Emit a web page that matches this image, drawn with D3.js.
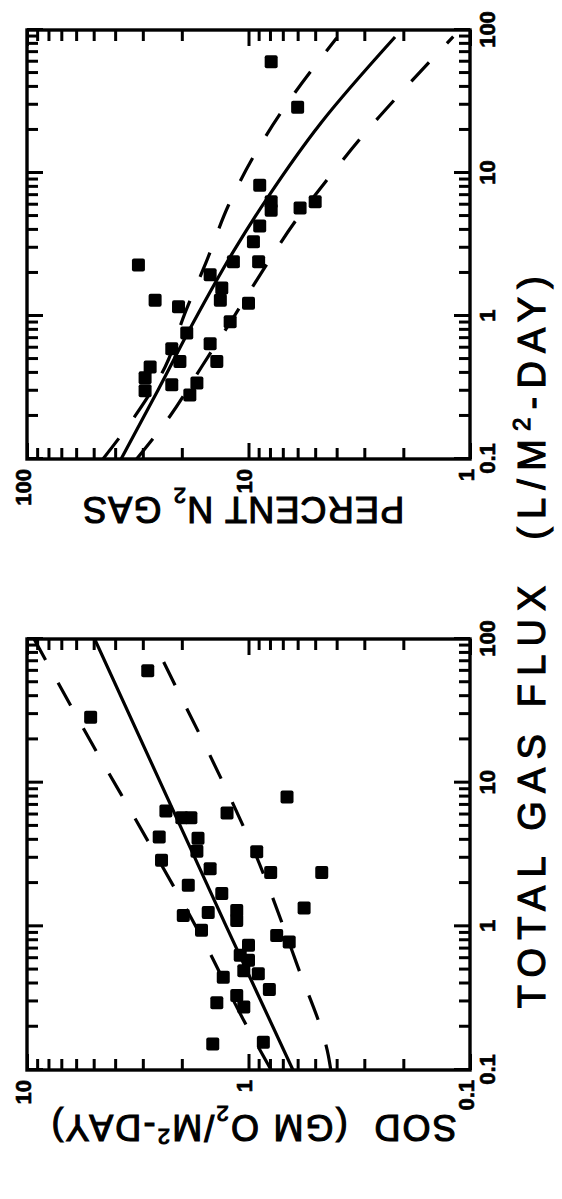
<!DOCTYPE html>
<html>
<head>
<meta charset="utf-8">
<script src="https://cdn.jsdelivr.net/npm/d3@7/dist/d3.min.js"></script>
<style>
html,body{margin:0;padding:0;background:#fff;}
svg{display:block;}
</style>
</head>
<body>
<svg id="chart" width="562" height="1199"></svg>
<script>
// ---------------- DATA ----------------
const fluxTickLabels = ["0.1", "1", "10", "100"];
const pctTickLabels  = ["1", "10", "100"];
const sodTickLabels  = ["0.1", "1", "10"];

// Percent N2 gas vs total gas flux
const n2Flux = [60.0, 28.8, 8.2, 6.3, 5.5, 5.7, 6.3, 4.26, 3.3, 2.4, 2.4, 2.27, 1.94, 1.57, 1.29,
                1.29, 1.16, 1.23, 0.91, 0.76, 0.59, 0.48, 0.64, 0.48, 0.44, 0.37, 0.30, 0.33, 0.34, 0.28];
const n2Pct  = [7.9, 6.0, 8.9, 7.9, 7.9, 5.85, 5.0, 8.9, 9.5, 9.0, 11.7, 31.4, 14.9, 13.2, 13.4,
                26.4, 20.7, 10.0, 12.1, 19.0, 22.2, 20.4, 14.9, 13.9, 27.8, 29.3, 29.3, 22.2, 17.1, 18.4];
const n2FitFlux = [0.1, 0.304, 0.893, 2.89, 6.79, 22.4, 89.4];
const n2FitPct  = [37.6, 25.6, 17.8, 11.6, 8.17, 4.71, 2.18];
const n2UpFlux  = [0.1, 0.2, 0.44, 1.04, 2.46, 5.97, 13.0, 29.1, 88];
const n2UpPct   = [45.4, 32.5, 23.8, 19.4, 15.4, 12.3, 9.5, 6.84, 4.0];
const n2LoFlux  = [0.1, 0.2, 0.44, 1.02, 2.10, 4.56, 9.2, 19.0, 38, 89.8];
const n2LoPct   = [32, 22.6, 16.3, 11.5, 8.58, 6.17, 4.36, 2.98, 2.0, 1.19];

// SOD vs total gas flux
const sodFlux = [60.1, 28.5, 7.96, 6.36, 5.69, 5.69, 6.16, 4.19, 4.10, 3.33, 2.88, 3.30, 2.52, 2.37, 2.37,
                 1.93, 1.69, 1.25, 1.29, 1.10, 1.19, 1.34, 0.94, 0.865, 0.778, 0.737, 0.628, 0.58, 0.49,
                 0.468, 0.443, 0.364, 0.33, 0.274, 0.294, 0.152, 0.156];
const sodVal  = [2.85, 5.16, 0.67, 2.36, 2.0, 1.82, 1.25, 2.53, 1.69, 1.71, 2.47, 0.918, 1.49, 0.794, 0.467,
                 1.87, 1.32, 1.52, 1.13, 1.13, 1.97, 0.561, 1.63, 0.746, 0.655, 1.0, 1.09, 1.0, 1.05,
                 0.903, 1.30, 0.805, 1.13, 1.05, 1.39, 1.45, 0.857];
const sodFitFlux = [0.1, 1, 100];
const sodFitVal  = [0.63, 1.26, 4.95];
const sodUpFlux  = [0.1, 0.221, 0.757, 3.87, 18.8, 100];
const sodUpVal   = [0.79, 1.05, 1.57, 2.83, 5.10, 9.29];
const sodLoFlux  = [0.1, 0.126, 0.55, 3.50, 16.4, 56.1, 100];
const sodLoVal   = [0.425, 0.436, 0.606, 0.955, 1.52, 2.26, 2.71];

// ---------------- DRAWING ----------------
// The figure is drawn in its native (landscape) orientation and then
// rotated 90 degrees counter-clockwise, like the scanned reference.
const W = 1199;
const FONT = "'Liberation Sans', Arial, Helvetica, sans-serif";
const TOP = 27, BOT = 470;
const svg = d3.select('#chart');
const root = svg.append('g').attr('transform', `translate(0,${W}) rotate(-90)`);

const zip = (a, b) => a.map((v, i) => [v, b[i]]);
const isMajor = v => Math.abs(Math.log10(v) - Math.round(Math.log10(v))) < 1e-6;

function panel(o) {
  const x = d3.scaleLog().domain([0.1, 100]).range([o.x0, o.x1]);
  const y = d3.scaleLog().domain(o.yDomain).range([BOT, TOP]);
  const g = root.append('g');
  const clipId = 'clip' + o.id;
  g.append('clipPath').attr('id', clipId).append('rect')
    .attr('x', o.x0).attr('y', TOP).attr('width', o.x1 - o.x0).attr('height', BOT - TOP);

  const xt = x.ticks(), yt = y.ticks();
  const xMinor = xt.filter(v => !isMajor(v)), xMajor = xt.filter(isMajor);
  const yMinor = yt.filter(v => !isMajor(v)), yMajor = yt.filter(isMajor);
  const MIN = 11, MAJ = 16;

  const tickGroup = (axis, vals, size, tr, fmt) => {
    const a = g.append('g').attr('transform', tr)
      .call(axis.tickValues(vals).tickSize(-size).tickSizeOuter(0).tickFormat(fmt || ''));
    a.select('.domain').remove();
    a.selectAll('line').attr('stroke', '#000').attr('stroke-width', 3);
    return a;
  };
  // flux axis (labelled at the bottom of the native figure)
  tickGroup(d3.axisBottom(x), xMinor, MIN, `translate(0,${BOT})`);
  const xb = tickGroup(d3.axisBottom(x).tickPadding(9), xMajor, MAJ, `translate(0,${BOT})`,
    (d, i) => fluxTickLabels[i]);
  tickGroup(d3.axisTop(x), xMinor, MIN, `translate(0,${TOP})`);
  tickGroup(d3.axisTop(x), xMajor, MAJ, `translate(0,${TOP})`);
  // value axis
  tickGroup(d3.axisLeft(y), yMinor, MIN, `translate(${o.x0},0)`);
  const yl = tickGroup(d3.axisLeft(y).tickPadding(10), yMajor, MAJ, `translate(${o.x0},0)`,
    (d, i) => o.yLabels[i]);
  tickGroup(d3.axisRight(y), yMinor, MIN, `translate(${o.x1},0)`);
  tickGroup(d3.axisRight(y), yMajor, MAJ, `translate(${o.x1},0)`);

  [xb, yl].forEach(a => a.selectAll('text')
    .attr('font-family', FONT).attr('font-weight', 'bold').attr('font-size', 22)
    .attr('fill', '#000').attr('stroke', '#000').attr('stroke-width', 0.6));
  yl.selectAll('text').attr('y', -4);

  // frame
  g.append('rect').attr('x', o.x0).attr('y', TOP).attr('width', o.x1 - o.x0).attr('height', BOT - TOP)
    .attr('fill', 'none').attr('stroke', '#000').attr('stroke-width', 3.4);

  const line = d3.line().x(d => x(d[0])).y(d => y(d[1])).curve(d3.curveMonotoneX);
  const lg = g.append('g').attr('clip-path', `url(#${clipId})`);
  lg.append('path').attr('d', line(o.fit)).attr('fill', 'none').attr('stroke', '#000').attr('stroke-width', 3.2);
  [o.up, o.lo].forEach(b => lg.append('path').attr('d', line(b)).attr('fill', 'none')
    .attr('stroke', '#000').attr('stroke-width', 3.2).attr('stroke-dasharray', '26,26'));

  const S = 13;
  g.append('g').selectAll('rect').data(o.pts).join('rect')
    .attr('x', d => x(d[0]) - S / 2).attr('y', d => y(d[1]) - S / 2)
    .attr('width', S).attr('height', S).attr('rx', 2).attr('fill', '#000');
}

panel({ id: 'sod', x0: 129, x1: 560, yDomain: [0.1, 10], yLabels: sodTickLabels,
        pts: zip(sodFlux, sodVal), fit: zip(sodFitFlux, sodFitVal),
        up: zip(sodUpFlux, sodUpVal), lo: zip(sodLoFlux, sodLoVal) });
panel({ id: 'n2', x0: 740, x1: 1169, yDomain: [1, 100], yLabels: pctTickLabels,
        pts: zip(n2Flux, n2Pct), fit: zip(n2FitFlux, n2FitPct),
        up: zip(n2UpFlux, n2UpPct), lo: zip(n2LoFlux, n2LoPct) });

// Axis titles
function title(parent, parts, size, spacing) {
  const t = parent.append('text').attr('font-family', FONT).attr('font-weight', 'normal')
    .attr('font-size', size).attr('fill', '#000').attr('stroke', '#000').attr('stroke-width', 1.1)
    .attr('text-anchor', 'middle').attr('letter-spacing', spacing).style('white-space', 'pre');
  const small = Math.round(size * 0.62);
  parts.forEach(p => {
    const s = t.append('tspan').text(p.t);
    if (p.sub) s.attr('font-size', small).attr('dy', size * 0.24);
    else if (p.sup) s.attr('font-size', small).attr('dy', -size * 0.4);
    if (p.back) s.attr('dy', p.back * size);
  });
  return t;
}
title(root.append('g').attr('transform', 'translate(561,545)'),
  [{ t: 'TOTAL GAS FLUX  (L/M' }, { t: '2', sup: true }, { t: '-DAY)', back: 0.4 }], 38, 8.2);
title(root.append('g').attr('transform', 'translate(702,243) rotate(-90)'),
  [{ t: 'PERCENT N' }, { t: '2', sub: true }, { t: ' GAS', back: -0.24 }], 36, 1.2);
title(root.append('g').attr('transform', 'translate(84,253) rotate(-90)'),
  [{ t: 'SOD  (GM O' }, { t: '2', sub: true }, { t: '/M', back: -0.24 }, { t: '2', sup: true }, { t: '-DAY)', back: 0.4 }],
  36, 2.2);
</script>
</body>
</html>
